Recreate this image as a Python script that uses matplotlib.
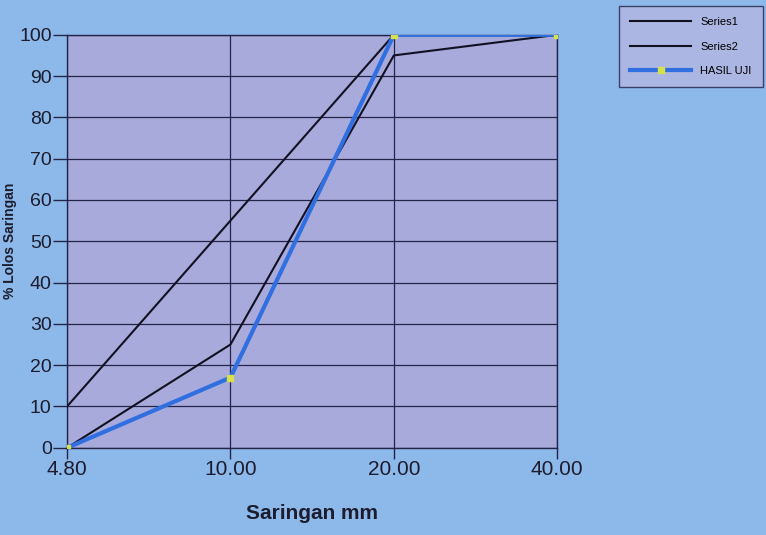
import matplotlib.pyplot as plt
import numpy as np

# sieve sizes (categorical axis) and percent passing
sieve_labels = ["4.80", "10.00", "20.00", "40.00"]
series1 = [10, 55, 100, 100]
series2 = [0, 25, 95, 100]
hasil_uji = [0, 17, 100, 100]
y_ticks = list(range(0, 101, 10))

bg_color = "#8db9ea"
plot_color = "#a9aadc"
grid_color = "#22244a"

plt.rcParams['font.family'] = ['Liberation Sans', 'DejaVu Sans']

fig = plt.figure(figsize=(7.66, 5.35), dpi=100, facecolor=bg_color)
ax = fig.add_axes([0.0875, 0.163, 0.64, 0.772])
ax.set_facecolor(plot_color)

x = np.arange(len(sieve_labels))

ax.plot(x, series1, color="#111122", linewidth=1.5, label="Series1", zorder=3)
ax.plot(x, series2, color="#111122", linewidth=1.5, label="Series2", zorder=3)
ax.plot(x, hasil_uji, color="#2f6fe0", linewidth=3, label="HASIL UJI",
        marker="s", markersize=4, markerfacecolor="#d8e04a",
        markeredgecolor="#d8e04a", zorder=4)

ax.set_xlim(0, len(sieve_labels) - 1)
ax.set_ylim(0, 100)
ax.set_xticks(x)
ax.set_xticklabels(sieve_labels)
ax.set_yticks(y_ticks)

ax.grid(True, color=grid_color, linewidth=0.9)
ax.set_axisbelow(True)
for spine in ax.spines.values():
    spine.set_color(grid_color)
    spine.set_linewidth(1.0)

ax.tick_params(axis="y", direction="out", length=10, width=1, color=grid_color,
               labelsize=14, labelcolor="#1c1c2e", pad=1)
ax.tick_params(axis="x", direction="out", length=8, width=1, color=grid_color,
               labelsize=15, labelcolor="#1c1c2e", pad=1)

ax.set_xlabel("Saringan mm", fontsize=15, fontweight="bold", color="#1c1c2e", labelpad=18)
ax.set_ylabel("% Lolos Saringan", fontsize=10, fontweight="bold", color="#1c1c2e")
ax.yaxis.set_label_coords(-0.103, 0.5)

leg = fig.legend(loc="upper right", bbox_to_anchor=(1.0, 0.995), fontsize=8,
                 frameon=True, fancybox=False, handlelength=5.5,
                 borderpad=1.0, labelspacing=1.3, borderaxespad=0.3)
leg.get_frame().set_facecolor("#b4b6e0")
leg.get_frame().set_edgecolor("#22244a")
leg.get_frame().set_linewidth(1.0)

fig.savefig("out.png", dpi=100, facecolor=bg_color)
